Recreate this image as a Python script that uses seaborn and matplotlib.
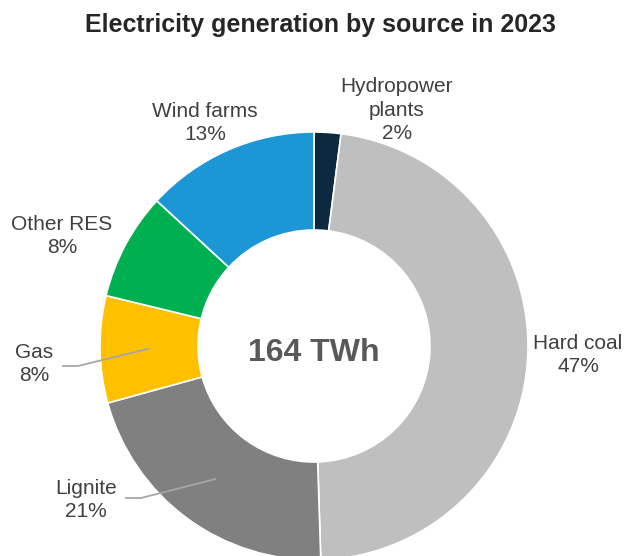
import matplotlib
matplotlib.use("Agg")
import matplotlib.pyplot as plt
import seaborn as sns
import numpy as np

# Electricity generation by source, 2023 (share of total, %)
sources = ["Hydropower\nplants", "Hard coal", "Lignite", "Gas", "Other RES", "Wind farms"]
shares = [2, 47, 21, 8, 8, 13]
colors = ["#0B2A3F", "#BFBFBF", "#808080", "#FFC000", "#00B050", "#1C96D4"]
total_label = "164 TWh"
title = "Electricity generation by source in 2023"

sns.set_theme(style="white")
plt.rcParams["font.family"] = ["Liberation Sans", "DejaVu Sans"]

W, H = 629, 556
fig = plt.figure(figsize=(W / 100, H / 100), dpi=100)
ax = fig.add_axes([0, 0, 1, 1])

cx, cy = 314, -346
r_out, r_in = 214, 116
ring_w = r_out - r_in

wedges, _ = ax.pie(
    shares, colors=colors, startangle=90, counterclock=False,
    radius=r_out, center=(cx, cy), frame=True,
    wedgeprops=dict(width=ring_w, edgecolor="white", linewidth=1.2),
)
ax.set_xlim(0, W)
ax.set_ylim(-H, 0)
ax.set_aspect("equal")
ax.axis("off")

txt = "#404040"
fs = 15
# label positions (pixel coords) for each source
label_pos = [(397, -110), (578, -355), (86, -500), (34, -364), (62, -236), (205, -123)]
leader = [None, None, (125, -498), (62, -366), None, None]

r_mid = (r_out + r_in) / 2
for w, name, pct, (lx, ly), ld in zip(wedges, sources, shares, label_pos, leader):
    ax.text(lx, ly, f"{name}\n{pct}%", ha="center", va="center",
            fontsize=fs, color=txt, linespacing=1.32)
    if ld is not None:
        ang = np.deg2rad((w.theta1 + w.theta2) / 2)
        ex, ey = cx + r_mid * np.cos(ang), cy + r_mid * np.sin(ang)
        ax.plot([ld[0], ld[0] + 16, ex], [ld[1], ld[1], ey],
                color="#A6A6A6", lw=1.3, solid_capstyle="butt")

ax.text(cx, -353, total_label, ha="center", va="center", fontsize=23,
        fontweight="bold", color="#595959")
ax.text(320, -25, title, ha="center", va="center", fontsize=18,
        fontweight="bold", color="#262626")

fig.savefig("out.png", dpi=100, facecolor="white")
